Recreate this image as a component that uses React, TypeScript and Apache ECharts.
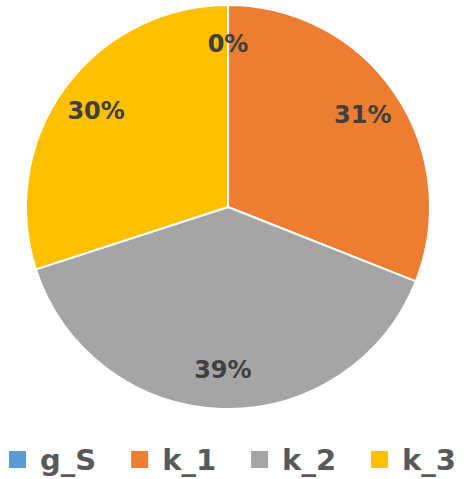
import React, { useEffect, useRef } from "react";
import * as echarts from "echarts";

const categories = ["g_S", "k_1", "k_2", "k_3"];
const values = [0, 31, 39, 30];
const colors = ["#5B9BD5", "#ED7D31", "#A5A5A5", "#FFC000"];

export default function App() {
  const ref = useRef<HTMLDivElement>(null);
  useEffect(() => {
    if (!ref.current) return;
    const chart = echarts.init(ref.current, undefined, { renderer: "svg" });
    const data = categories.map((name, i) => ({
      name,
      value: values[i],
      itemStyle: { color: colors[i] },
    }));
    chart.setOption({
      animation: false,
      backgroundColor: "#ffffff",
      legend: {
        data: categories,
        left: 9,
        top: 445,
        padding: 0,
        itemWidth: 17,
        itemHeight: 17,
        itemGap: 35,
        icon: "rect",
        itemStyle: { borderWidth: 0 },
        textStyle: {
          fontFamily: "DejaVu Sans",
          fontWeight: "bold",
          fontSize: 29,
          color: "#595959",
          padding: [0, 0, 0, 9],
        },
      },
      series: [
        {
          type: "pie",
          center: [228, 207],
          radius: [0, 202],
          startAngle: 90,
          clockwise: true,
          avoidLabelOverlap: false,
          label: { show: false },
          labelLine: { show: false },
          itemStyle: { borderColor: "#ffffff", borderWidth: 2 },
          emphasis: { disabled: true },
          data,
        },
        {
          type: "pie",
          center: [228, 207],
          radius: [118, 202],
          startAngle: 90,
          clockwise: true,
          silent: true,
          avoidLabelOverlap: false,
          itemStyle: { color: "rgba(0,0,0,0)", borderWidth: 0 },
          label: {
            show: true,
            position: "inside",
            formatter: "{d}%",
            fontFamily: "DejaVu Sans",
            fontWeight: "bold",
            fontSize: 24,
            color: "#404040",
          },
          labelLine: { show: false },
          emphasis: { disabled: true },
          data: categories.map((name, i) => ({
            name,
            value: values[i],
            itemStyle: { color: "rgba(0,0,0,0)" },
          })),
        },
      ],
    });
    return () => chart.dispose();
  }, []);
  return (
    <div
      ref={ref}
      style={{ position: "fixed", left: 0, top: 0, width: 467, height: 479 }}
    />
  );
}
